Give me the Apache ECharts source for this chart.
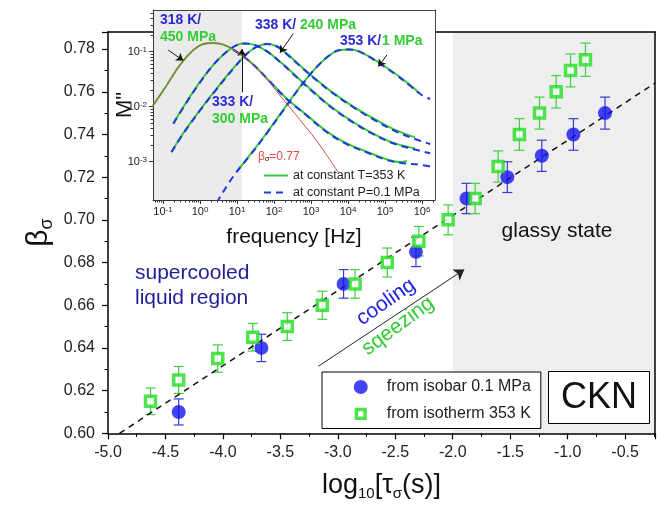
<!DOCTYPE html>
<html><head><meta charset="utf-8">
<script src="https://cdn.jsdelivr.net/npm/echarts@6/dist/echarts.min.js"></script>
<style>html,body{margin:0;padding:0;background:#fff}#c{width:661px;height:508px}</style>
</head><body><div id="c"></div>
<script>
// ===== main panel data (x: log10 tau_sigma [s], y: beta_sigma) =====
const isobarX   = [-4.385, -3.665, -2.95, -2.32, -1.88, -1.525, -1.225, -0.95, -0.675];
const isobarY   = [0.610, 0.640, 0.670, 0.685, 0.710, 0.720, 0.730, 0.740, 0.750];
const isobarErr = [0.0061, 0.0064, 0.0067, 0.0069, 0.0071, 0.0072, 0.0073, 0.0074, 0.0075];

const isothermX   = [-4.63, -4.385, -4.045, -3.74, -3.44, -3.135, -2.85, -2.57, -2.295, -2.04, -1.805, -1.605, -1.42, -1.245, -1.10, -0.975, -0.845];
const isothermY   = [0.615, 0.625, 0.635, 0.645, 0.650, 0.660, 0.670, 0.680, 0.690, 0.700, 0.710, 0.725, 0.740, 0.750, 0.760, 0.770, 0.775];
const isothermErr = [0.0062, 0.0063, 0.0064, 0.0065, 0.0065, 0.0066, 0.0067, 0.0068, 0.0069, 0.0070, 0.0071, 0.0073, 0.0074, 0.0075, 0.0076, 0.0077, 0.0078];

const fitX = [-4.9, -0.24];
const fitY = [0.600, 0.764];
const arrowX = [-3.17, -1.90];
const arrowY = [0.6314, 0.6767];
const glassyFrom = -2.0;

// ===== inset data: [log10(f/Hz), log10(M'')] =====
const c318T = [[-1.30,-2.01],[-0.90,-1.61],[-0.54,-1.24],[-0.18,-0.97],[0.09,-0.86],[0.36,-0.84],[0.63,-0.87],[0.90,-0.96],[1.35,-1.18],[1.80,-1.48],[2.34,-1.85],[2.88,-2.15],[3.42,-2.45],[3.96,-2.67],[4.50,-2.82],[5.05,-2.96],[5.41,-3.01],[5.59,-2.99]];
const c318P = [[0.90,-0.96],[1.35,-1.18],[1.80,-1.48],[2.34,-1.86],[2.88,-2.16],[3.42,-2.46],[3.96,-2.68],[4.50,-2.83],[5.05,-2.97],[5.41,-3.02],[5.95,-3.06],[6.22,-3.09]];
const c333T = [[-0.72,-2.30],[-0.36,-1.91],[0.00,-1.55],[0.36,-1.24],[0.72,-1.00],[0.99,-0.88],[1.17,-0.85],[1.44,-0.87],[1.80,-0.99],[2.25,-1.23],[2.70,-1.51],[3.15,-1.78],[3.60,-2.03],[4.14,-2.28],[4.68,-2.49],[5.23,-2.66],[5.81,-2.76]];
const c333P = [[-0.72,-2.31],[-0.36,-1.92],[0.00,-1.56],[0.36,-1.24],[0.72,-1.00],[0.99,-0.88],[1.17,-0.85],[1.44,-0.87],[1.80,-0.99],[2.25,-1.24],[2.70,-1.52],[3.15,-1.79],[3.60,-2.04],[4.14,-2.29],[4.68,-2.50],[5.23,-2.67],[5.81,-2.78],[6.22,-2.85]];
const c338T = [[-0.77,-2.82],[-0.45,-2.48],[0.00,-2.06],[0.45,-1.67],[0.90,-1.30],[1.26,-1.04],[1.53,-0.91],[1.80,-0.86],[2.07,-0.90],[2.34,-1.03],[2.70,-1.25],[3.15,-1.51],[3.60,-1.75],[4.14,-2.00],[4.68,-2.21],[5.23,-2.41],[5.81,-2.56]];
const c338P = [[-0.77,-2.83],[-0.45,-2.49],[0.00,-2.07],[0.45,-1.68],[0.90,-1.31],[1.26,-1.04],[1.53,-0.91],[1.80,-0.86],[2.07,-0.90],[2.34,-1.04],[2.70,-1.26],[3.15,-1.52],[3.60,-1.76],[4.14,-2.01],[4.68,-2.23],[5.23,-2.43],[5.81,-2.59],[6.22,-2.68]];
const c353T = [[1.00,-3.18],[1.35,-2.88],[1.80,-2.48],[2.25,-2.06],[2.70,-1.64],[3.15,-1.28],[3.51,-1.06],[3.78,-0.97],[4.05,-0.96],[4.41,-1.03],[4.86,-1.21],[5.32,-1.42],[5.68,-1.61],[5.95,-1.76]];
const c353P = [[0.45,-3.75],[0.90,-3.27],[1.35,-2.89],[1.80,-2.49],[2.25,-2.07],[2.70,-1.65],[3.15,-1.28],[3.51,-1.06],[3.78,-0.97],[4.05,-0.96],[4.41,-1.03],[4.86,-1.22],[5.32,-1.43],[5.68,-1.62],[5.95,-1.77],[6.22,-1.86]];
const fit077 = [[-1.30,-2.01],[-0.90,-1.61],[-0.54,-1.24],[-0.18,-0.97],[0.09,-0.86],[0.36,-0.84],[0.63,-0.87],[0.90,-0.96],[1.35,-1.19],[1.80,-1.50],[2.25,-1.87],[2.70,-2.24],[3.15,-2.62],[3.74,-3.20]];
const insetArrows = [
  [[-0.86,-0.97],[-0.45,-1.16]],
  [[1.13,-1.74],[1.13,-0.95]],
  [[2.52,-0.67],[2.16,-1.02]],
  [[5.05,-1.06],[4.82,-1.27]]
];
const insetDecades = [-1,0,1,2,3,4,5,6];
const insetYDecades = [-3,-2,-1];
const insetGrayTo = 1.13;

// ===== styling =====
const FONT = '"Liberation Sans", Arial, sans-serif';
const BLUE = '#1414ee', GREEN = '#22dd22';
const INS_X = [-1.27, 6.35], INS_Y = [-3.70, -0.24];

function minorLogTicks(lo, hi) {
  const out = [];
  for (let n = -3; n <= 7; n++) for (let k = 2; k <= 9; k++) {
    const v = n + Math.log10(k);
    if (v > lo && v < hi) out.push(v);
  }
  return out;
}
const supFmt = v => '{b|10}{s|' + Math.round(v) + '}';
const supRich = { b: { fontSize: 11, color: '#222', fontFamily: FONT }, s: { fontSize: 8, color: '#222', verticalAlign: 'top', fontFamily: FONT } };

function errSeries(xs, ys, es, color) {
  return {
    type: 'custom', xAxisIndex: 0, yAxisIndex: 0, z: 2, silent: true,
    data: xs.map((x, i) => [x, ys[i] - es[i], ys[i] + es[i]]),
    encode: { x: 0, y: [1, 2] },
    renderItem(params, api) {
      const x = api.value(0);
      const lo = api.coord([x, api.value(1)]);
      const hi = api.coord([x, api.value(2)]);
      const w = 5, st = { stroke: color, lineWidth: 1.2 };
      return { type: 'group', children: [
        { type: 'line', shape: { x1: lo[0], y1: lo[1], x2: hi[0], y2: hi[1] }, style: st },
        { type: 'line', shape: { x1: lo[0] - w, y1: lo[1], x2: lo[0] + w, y2: lo[1] }, style: st },
        { type: 'line', shape: { x1: hi[0] - w, y1: hi[1], x2: hi[0] + w, y2: hi[1] }, style: st }
      ]};
    }
  };
}
function insetLine(name, data, color, dashed, z, extra) {
  return Object.assign({
    type: 'line', name, xAxisIndex: 2, yAxisIndex: 2, data, smooth: 0.4, symbol: 'none', showSymbol: false,
    z, silent: true, clip: true,
    lineStyle: { color, width: 2, type: dashed ? [7, 5] : 'solid' },
    itemStyle: { color }
  }, extra || {});
}

const chart = echarts.init(document.getElementById('c'), null, { renderer: 'canvas' });
const T_NAME = 'at constant T=353 K', P_NAME = 'at constant P=0.1 MPa';

const option = {
  animation: false,
  backgroundColor: '#fff',
  grid: [
    { left: 108, top: 32, width: 547, height: 401.3, show: false },
    { left: 153, top: 10, width: 282, height: 190, show: true, backgroundColor: '#fff', borderWidth: 0, z: 5 }
  ],
  xAxis: [
    { gridIndex: 0, type: 'value', min: -5, max: -0.24, interval: 0.5, position: 'bottom', z: 3,
      axisLine: { onZero: false, lineStyle: { color: '#000', width: 1.5 } },
      axisTick: { inside: false, length: 6, lineStyle: { color: '#000', width: 1.2 } },
      minorTick: { show: true, splitNumber: 2, length: 3.5, lineStyle: { color: '#000', width: 1 } },
      splitLine: { show: false },
      axisLabel: { fontSize: 16, color: '#222', fontFamily: FONT, margin: 11, showMaxLabel: false, formatter: v => v.toFixed(1) },
      name: '{a|log}{sub|10}{a|[τ}{sub|σ}{a|(s)]}', nameLocation: 'middle', nameGap: 36, nameMoveOverlap: false,
      nameTextStyle: { rich: {
        a: { fontSize: 27, color: '#111', fontFamily: FONT, lineHeight: 32 },
        sub: { fontSize: 15, color: '#111', fontFamily: FONT, verticalAlign: 'bottom' } } }
    },
    { gridIndex: 0, type: 'value', min: -5, max: -0.24, position: 'top', z: 3,
      axisLine: { onZero: false, lineStyle: { color: '#000', width: 1.5 } },
      axisTick: { show: false }, axisLabel: { show: false }, splitLine: { show: false } },
    { gridIndex: 1, type: 'value', min: INS_X[0], max: INS_X[1], position: 'bottom', z: 10,
      axisLine: { onZero: false, lineStyle: { color: '#333', width: 1 } },
      axisTick: { customValues: insetDecades, length: 4, lineStyle: { color: '#333' } },
      axisLabel: { customValues: insetDecades, formatter: supFmt, rich: supRich, margin: 6 },
      splitLine: { show: false },
      name: 'frequency [Hz]', nameLocation: 'middle', nameGap: 27, nameMoveOverlap: false,
      nameTextStyle: { fontSize: 21, color: '#111', fontFamily: FONT }
    },
    { gridIndex: 1, type: 'value', min: INS_X[0], max: INS_X[1], position: 'top', z: 10,
      axisLine: { onZero: false, lineStyle: { color: '#444', width: 1 } },
      axisTick: { show: false }, axisLabel: { show: false }, splitLine: { show: false } },
    { gridIndex: 1, type: 'value', min: INS_X[0], max: INS_X[1], position: 'bottom', z: 10,
      axisLine: { show: false, onZero: false },
      axisTick: { customValues: minorLogTicks(INS_X[0], INS_X[1]), length: 2.5, lineStyle: { color: '#333' } },
      axisLabel: { show: false }, splitLine: { show: false } }
  ],
  yAxis: [
    { gridIndex: 0, type: 'value', min: 0.6, max: 0.788, interval: 0.02, position: 'left', z: 3,
      axisLine: { onZero: false, lineStyle: { color: '#000', width: 1.5 } },
      axisTick: { inside: false, length: 6, lineStyle: { color: '#000', width: 1.2 } },
      minorTick: { show: true, splitNumber: 2, length: 3.5, lineStyle: { color: '#000', width: 1 } },
      splitLine: { show: false },
      axisLabel: { fontSize: 16, color: '#222', fontFamily: FONT, margin: 13, showMaxLabel: false, formatter: v => v.toFixed(2) },
      name: '{a|β}{sub|σ}', nameLocation: 'middle', nameRotate: 90, nameGap: 52, nameMoveOverlap: false,
      nameTextStyle: { rich: {
        a: { fontSize: 30, color: '#111', fontFamily: FONT, lineHeight: 34 },
        sub: { fontSize: 18, color: '#111', fontFamily: FONT, verticalAlign: 'bottom' } } }
    },
    { gridIndex: 0, type: 'value', min: 0.6, max: 0.788, position: 'right', z: 3,
      axisLine: { onZero: false, lineStyle: { color: '#000', width: 1.5 } },
      axisTick: { show: false }, axisLabel: { show: false }, splitLine: { show: false } },
    { gridIndex: 1, type: 'value', min: INS_Y[0], max: INS_Y[1], position: 'left', z: 10,
      axisLine: { onZero: false, lineStyle: { color: '#333', width: 1 } },
      axisTick: { customValues: insetYDecades, length: 4, lineStyle: { color: '#333' } },
      axisLabel: { customValues: insetYDecades, formatter: supFmt, rich: supRich, margin: 6 },
      splitLine: { show: false },
      name: 'M"', nameLocation: 'middle', nameRotate: 90, nameGap: 17, nameMoveOverlap: false,
      nameTextStyle: { fontSize: 22, color: '#111', fontFamily: FONT }
    },
    { gridIndex: 1, type: 'value', min: INS_Y[0], max: INS_Y[1], position: 'right', z: 10,
      axisLine: { onZero: false, lineStyle: { color: '#444', width: 1 } },
      axisTick: { show: false }, axisLabel: { show: false }, splitLine: { show: false } },
    { gridIndex: 1, type: 'value', min: INS_Y[0], max: INS_Y[1], position: 'left', z: 10,
      axisLine: { show: false, onZero: false },
      axisTick: { customValues: minorLogTicks(INS_Y[0], INS_Y[1]), length: 2.5, lineStyle: { color: '#333' } },
      axisLabel: { show: false }, splitLine: { show: false } }
  ],
  legend: [
    { data: [
        'from isobar 0.1 MPa',
        { name: 'from isotherm 353 K', icon: 'path://M0,0M16,16M3,3H13V13H3Z',
          itemStyle: { color: '#fff', borderColor: GREEN, borderWidth: 3.5 } }
      ],
      orient: 'vertical', left: 322, top: 372,
      padding: [7, 10, 6, 30], itemWidth: 14, itemHeight: 14, itemGap: 10, selectedMode: false,
      backgroundColor: '#fff', borderColor: '#000', borderWidth: 1, borderRadius: 0, z: 12,
      textStyle: { fontSize: 16, color: '#222', fontFamily: FONT, padding: [0, 0, 0, 14] } },
    { data: [T_NAME, P_NAME], orient: 'vertical', left: 263, top: 169, padding: 0,
      itemWidth: 24, itemHeight: 12, itemGap: 4, selectedMode: false, z: 12,
      itemStyle: { opacity: 0 },
      textStyle: { fontSize: 12.5, color: '#222', fontFamily: FONT } }
  ],
  series: [
    { type: 'line', name: 'fit', xAxisIndex: 0, yAxisIndex: 0, z: 2, silent: true,
      data: fitX.map((x, i) => [x, fitY[i]]), symbol: 'none',
      lineStyle: { color: '#111', width: 1.5, type: [6, 5] },
      markArea: { silent: true, z: 1, itemStyle: { color: '#eeeeee' },
        data: [[{ xAxis: glassyFrom }, { xAxis: -0.24 }]] },
      markLine: { silent: true, z: 5, symbol: ['none', 'arrow'], symbolSize: 10,
        lineStyle: { color: '#222', width: 1, type: 'solid' }, label: { show: false },
        data: [[{ coord: [arrowX[0], arrowY[0]] }, { coord: [arrowX[1], arrowY[1]] }]] } },
    errSeries(isobarX, isobarY, isobarErr, '#3a3ad0'),
    errSeries(isothermX, isothermY, isothermErr, '#44cc44'),
    { type: 'scatter', name: 'from isobar 0.1 MPa', xAxisIndex: 0, yAxisIndex: 0, z: 3, silent: true,
      data: isobarX.map((x, i) => [x, isobarY[i]]), symbol: 'circle', symbolSize: 14,
      itemStyle: { color: BLUE } },
    { type: 'scatter', name: 'from isotherm 353 K', xAxisIndex: 0, yAxisIndex: 0, z: 4, silent: true,
      data: isothermX.map((x, i) => [x, isothermY[i]]), symbol: 'rect', symbolSize: 10,
      itemStyle: { color: '#fff', borderColor: GREEN, borderWidth: 3.5 } },

    insetLine(T_NAME, c318T, '#33cc33', false, 10, {
      markArea: { silent: true, z: 6, itemStyle: { color: '#ebebeb' },
        data: [[{ xAxis: INS_X[0] }, { xAxis: insetGrayTo }]] } }),
    insetLine(T_NAME, c333T, '#33cc33', false, 10),
    insetLine(T_NAME, c338T, '#33cc33', false, 10),
    insetLine(T_NAME, c353T, '#33cc33', false, 10),
    insetLine(P_NAME, c318P, '#2236e6', true, 11),
    insetLine(P_NAME, c333P, '#2236e6', true, 11),
    insetLine(P_NAME, c338P, '#2236e6', true, 11),
    insetLine(P_NAME, c353P, '#2236e6', true, 11),
    insetLine('beta fit', fit077, '#d84848', false, 12, {
      lineStyle: { color: '#d84848', width: 1 },
      markLine: { silent: true, z: 12, symbol: ['none', 'arrow'], symbolSize: 7,
        lineStyle: { color: '#111', width: 1, type: 'solid' }, label: { show: false },
        data: insetArrows.map(a => [{ coord: a[0] }, { coord: a[1] }]) } })
  ],
  graphic: [
    { type: 'text', x: 135, y: 273, z: 20, silent: true, style: { text: 'supercooled', fontSize: 21, fontFamily: FONT, fill: '#1e1e96', align: 'left', verticalAlign: 'middle' } },
    { type: 'text', x: 135, y: 298, z: 20, silent: true, style: { text: 'liquid region', fontSize: 21, fontFamily: FONT, fill: '#1e1e96', align: 'left', verticalAlign: 'middle' } },
    { type: 'text', x: 557, y: 231, z: 20, silent: true, style: { text: 'glassy state', fontSize: 21, fontFamily: FONT, fill: '#111', align: 'center', verticalAlign: 'middle' } },
    { type: 'text', x: 386, y: 302, rotation: 0.61, z: 20, silent: true, style: { text: 'cooling', fontSize: 21, fontFamily: FONT, fill: '#2424dc', align: 'center', verticalAlign: 'middle' } },
    { type: 'text', x: 398, y: 326, rotation: 0.64, z: 20, silent: true, style: { text: 'sqeezing', fontSize: 21, fontFamily: FONT, fill: '#33cc33', align: 'center', verticalAlign: 'middle' } },
    { type: 'rect', z: 20, silent: true, shape: { x: 548.5, y: 371.5, width: 101, height: 52 }, style: { fill: '#fff', stroke: '#000', lineWidth: 1 } },
    { type: 'text', x: 599, y: 398, z: 21, silent: true, style: { text: 'CKN', fontSize: 36, fontFamily: FONT, fill: '#111', align: 'center', verticalAlign: 'middle' } },
    // inset annotations
    { type: 'text', x: 160, y: 20, z: 20, silent: true, style: { text: '318 K/', fontSize: 14, fontWeight: 'bold', fontFamily: FONT, fill: '#2b2bd0', verticalAlign: 'middle' } },
    { type: 'text', x: 160, y: 37, z: 20, silent: true, style: { text: '450 MPa', fontSize: 14, fontWeight: 'bold', fontFamily: FONT, fill: '#33cc33', verticalAlign: 'middle' } },
    { type: 'text', x: 255, y: 25, z: 20, silent: true, style: { text: '338 K/', fontSize: 14, fontWeight: 'bold', fontFamily: FONT, fill: '#2b2bd0', verticalAlign: 'middle' } },
    { type: 'text', x: 300, y: 25, z: 20, silent: true, style: { text: '240 MPa', fontSize: 14, fontWeight: 'bold', fontFamily: FONT, fill: '#33cc33', verticalAlign: 'middle' } },
    { type: 'text', x: 340, y: 41, z: 20, silent: true, style: { text: '353 K/', fontSize: 14, fontWeight: 'bold', fontFamily: FONT, fill: '#2b2bd0', verticalAlign: 'middle' } },
    { type: 'text', x: 382, y: 41, z: 20, silent: true, style: { text: '1 MPa', fontSize: 14, fontWeight: 'bold', fontFamily: FONT, fill: '#33cc33', verticalAlign: 'middle' } },
    { type: 'text', x: 212, y: 102, z: 20, silent: true, style: { text: '333 K/', fontSize: 14, fontWeight: 'bold', fontFamily: FONT, fill: '#2b2bd0', verticalAlign: 'middle' } },
    { type: 'text', x: 212, y: 119, z: 20, silent: true, style: { text: '300 MPa', fontSize: 14, fontWeight: 'bold', fontFamily: FONT, fill: '#33cc33', verticalAlign: 'middle' } },
    { type: 'text', x: 258, y: 157, z: 20, silent: true, style: { text: '{a|β}{s|σ}{a|=0.77}', verticalAlign: 'middle',
      rich: { a: { fontSize: 12, fontFamily: FONT, fill: '#e04848', color: '#e04848' }, s: { fontSize: 7, fontFamily: FONT, color: '#e04848', verticalAlign: 'bottom' } } } }
  ]
};
chart.setOption(option);
</script></body></html>
